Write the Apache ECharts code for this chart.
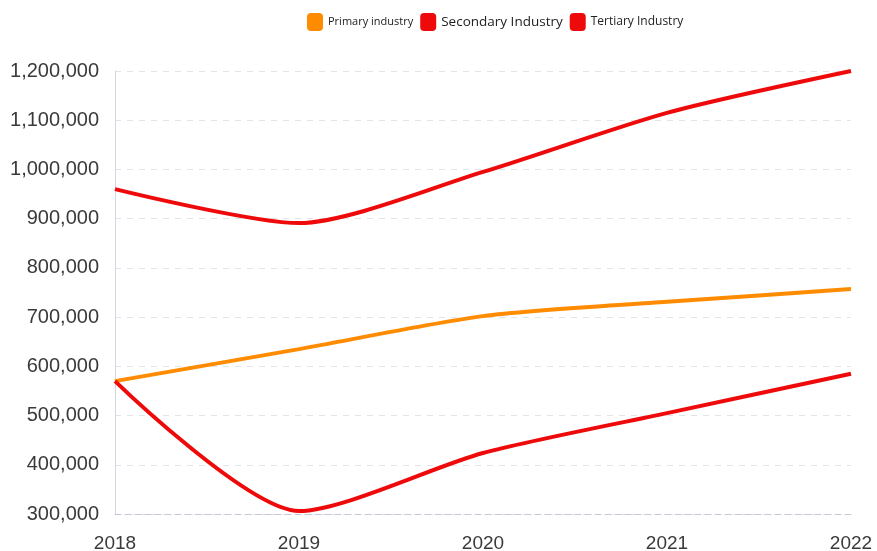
<!DOCTYPE html>
<html>
<head>
<meta charset="utf-8">
<script src="https://cdn.jsdelivr.net/npm/echarts@6/dist/echarts.min.js"></script>
<style>
  html, body { margin: 0; padding: 0; background: #fff; }
  #main { width: 877px; height: 551px; }
</style>
</head>
<body>
<div id="main"></div>
<script>
var years = ['2018', '2019', '2020', '2021', '2022'];
var primary = [570000, 635000, 702000, 731000, 757000];
var secondary = [960000, 891000, 995000, 1115000, 1200000];
var tertiary = [570000, 306000, 424000, 505000, 585000];

var chart = echarts.init(document.getElementById('main'));

var option = {
    animation: false,
    color: ['#ff8c00', '#ee0a0a', '#ee0a0a'],
    legend: {
        left: 302,
        top: 8,
        itemWidth: 16,
        itemHeight: 18,
        itemGap: 7,
        icon: 'roundRect',
        data: [
            {name: 'Primary industry', textStyle: {fontSize: 11, fontFamily: 'Open Sans', color: '#222'}},
            {name: 'Secondary Industry', textStyle: {fontSize: 13.5, fontFamily: 'Open Sans', color: '#222'}},
            {name: 'Tertiary Industry', textStyle: {fontSize: 12, fontFamily: 'Open Sans', color: '#222'}}
        ]
    },
    grid: {left: 115, right: 26, top: 71, bottom: 37, outerBoundsMode: 'none'},
    xAxis: {
        type: 'category',
        boundaryGap: false,
        data: years,
        axisLine: {lineStyle: {color: '#c4c8d4', type: [6, 4]}},
        axisTick: {show: false},
        axisLabel: {fontSize: 19, color: '#3a3a3a', margin: 20, fontFamily: 'Liberation Sans'}
    },
    yAxis: {
        type: 'value',
        min: 300000,
        max: 1200000,
        interval: 100000,
        axisLine: {show: true, lineStyle: {color: '#d4d7e0'}},
        axisTick: {show: false},
        axisLabel: {
            fontSize: 20, color: '#3a3a3a', margin: 16, fontFamily: 'Liberation Sans',
            formatter: function (v) { return v.toLocaleString('en-US'); }
        },
        splitLine: {lineStyle: {color: '#e2e4ea', type: [6, 6]}}
    },
    series: [
        {name: 'Primary industry', type: 'line', data: primary, smooth: 0.25, showSymbol: false, lineStyle: {width: 4}, z: 3},
        {name: 'Secondary Industry', type: 'line', data: secondary, smooth: 0.25, showSymbol: false, lineStyle: {width: 4}},
        {name: 'Tertiary Industry', type: 'line', data: tertiary, smooth: 0.25, showSymbol: false, lineStyle: {width: 4}}
    ]
};

chart.setOption(option);
</script>
</body>
</html>
